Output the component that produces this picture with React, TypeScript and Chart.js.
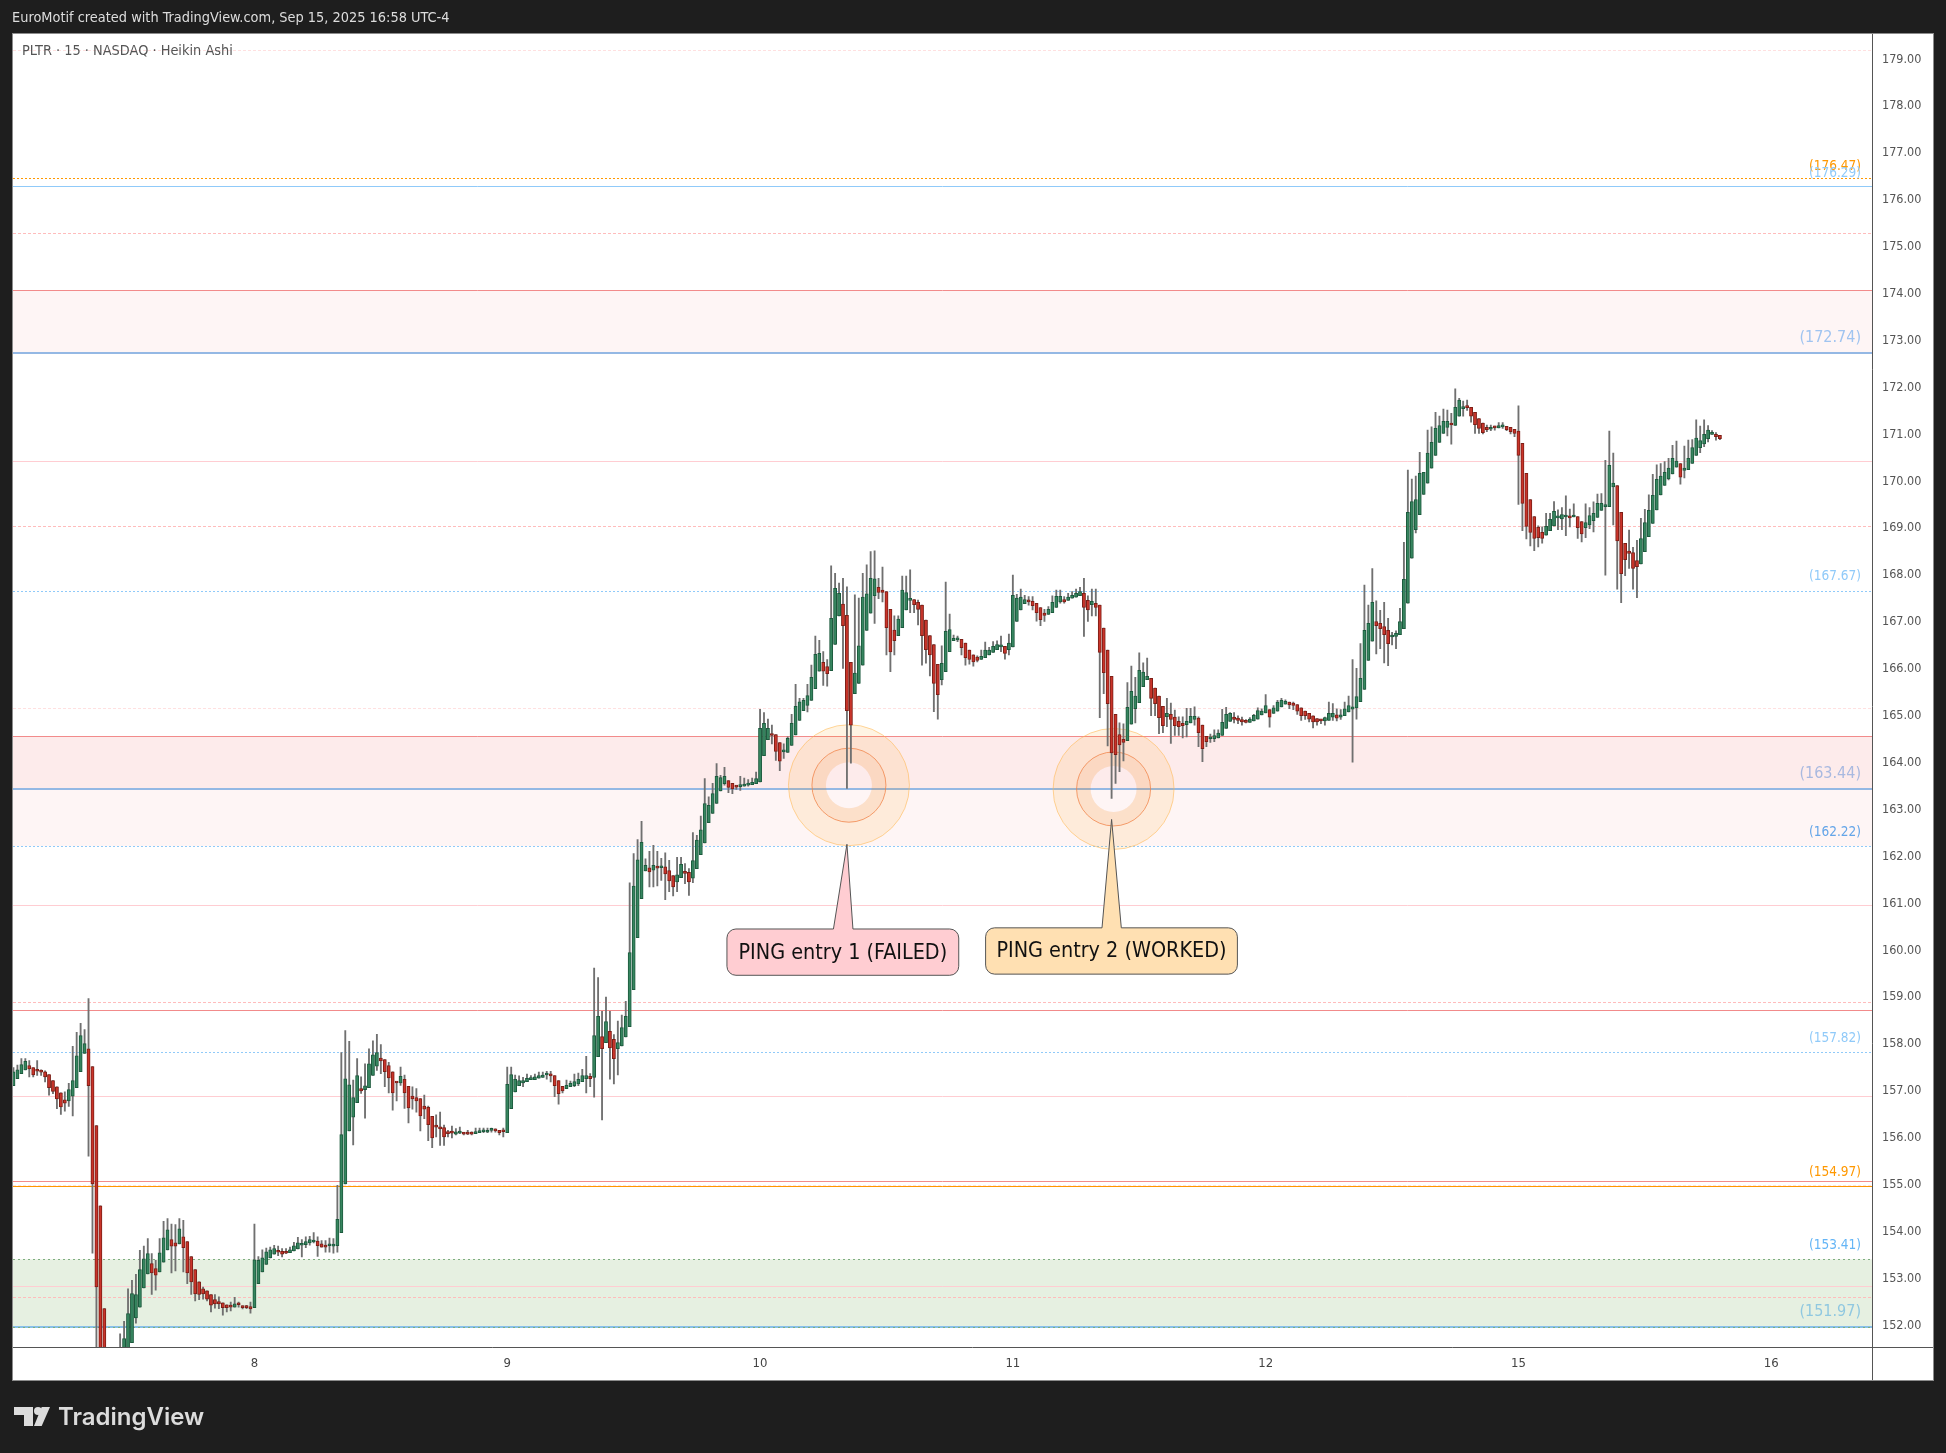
import { useEffect, useRef } from "react";
import { Chart, registerables } from "chart.js";

Chart.register(...registerables);

const SLOTS = 471;
const dayStarts = [61, 125, 189, 253, 317, 381, 445];
const dayLabels = ["8", "9", "10", "11", "12", "15", "16"];
const priceTicks = [152, 153, 154, 155, 156, 157, 158, 159, 160, 161, 162, 163, 164, 165, 166, 167, 168, 169, 170, 171, 172, 173, 174, 175, 176, 177, 178, 179];

const opens = [
  157.11,157.26,157.37,157.45,157.54,157.50,157.43,157.42,157.41,157.35,
  157.22,157.09,156.96,156.81,156.79,156.89,157.07,157.41,157.80,157.90,
  157.52,156.26,154.55,152.36,151.30,150.80,150.50,150.70,151.00,151.30,
  151.63,152.16,152.39,152.80,153.10,153.32,153.21,153.14,153.35,153.61,
  153.83,153.76,153.74,153.89,153.79,153.47,153.19,152.93,152.78,152.74,
  152.66,152.55,152.51,152.48,152.44,152.40,152.39,152.45,152.42,152.39,
  152.40,152.38,152.89,153.14,153.30,153.44,153.52,153.57,153.58,153.55,
  153.55,153.59,153.63,153.71,153.72,153.76,153.78,153.80,153.74,153.70,
  153.70,153.69,153.70,153.98,155.02,156.15,156.44,156.75,157.05,157.03,
  157.07,157.33,157.53,157.70,157.67,157.54,157.41,157.18,157.17,157.25,
  157.10,156.89,156.86,156.84,156.68,156.65,156.46,156.24,156.23,156.22,
  156.12,156.11,156.08,156.10,156.12,156.09,156.09,156.09,156.11,156.13,
  156.12,156.16,156.16,156.16,156.14,156.11,156.62,156.98,157.11,157.17,
  157.20,157.24,157.24,157.27,157.29,157.34,157.33,157.33,157.22,157.10,
  157.05,157.09,157.11,157.15,157.20,157.26,157.31,157.29,157.73,158.16,
  158.03,158.27,158.10,157.90,157.96,158.15,158.37,159.16,160.27,161.10,
  161.69,161.76,161.71,161.76,161.76,161.78,161.70,161.59,161.46,161.55,
  161.67,161.66,161.54,161.74,162.04,162.29,162.72,162.92,163.13,163.40,
  163.55,163.62,163.56,163.49,163.49,163.50,163.52,163.53,163.55,163.59,
  164.15,164.49,164.62,164.60,164.43,164.23,164.22,164.37,164.59,164.90,
  165.11,165.22,165.33,165.58,165.95,166.14,166.05,165.96,166.52,167.13,
  167.38,167.14,166.14,165.47,165.69,166.08,166.82,167.19,167.56,167.74,
  167.68,167.65,167.27,166.83,166.71,166.88,167.26,167.46,167.48,167.42,
  167.36,167.04,166.71,166.52,166.10,165.77,165.94,166.37,166.60,166.62,
  166.63,166.55,166.40,166.30,166.25,166.20,166.24,166.30,166.35,166.41,
  166.47,166.48,166.41,166.47,167.01,167.26,167.39,167.44,167.44,167.40,
  167.31,167.19,167.16,167.20,167.31,167.43,167.48,167.46,167.51,167.53,
  167.56,167.61,167.46,167.37,167.40,167.36,166.87,166.40,165.84,165.03,
  164.60,164.50,164.47,164.82,165.15,165.28,165.62,165.77,165.80,165.59,
  165.42,165.20,164.98,165.03,164.97,164.88,164.84,164.81,164.85,164.92,
  164.95,164.80,164.56,164.51,164.51,164.53,164.58,164.73,164.88,164.97,
  164.95,164.92,164.90,164.86,164.89,164.93,165.02,165.06,165.13,165.05,
  165.10,165.19,165.25,165.29,165.27,165.24,165.17,165.10,165.05,165.00,
  164.94,164.90,164.89,164.90,164.97,165.02,164.97,165.00,165.08,165.14,
  165.17,165.30,165.56,166.18,166.59,167.01,166.97,166.90,166.82,166.68,
  166.69,166.73,166.86,167.40,168.36,168.97,169.29,169.72,169.96,170.28,
  170.55,170.83,171.02,171.15,171.21,171.19,171.39,171.55,171.58,171.58,
  171.47,171.34,171.24,171.15,171.11,171.15,171.14,171.16,171.17,171.15,
  171.11,171.07,170.81,170.17,169.61,169.25,169.02,168.91,168.85,168.95,
  169.05,169.22,169.20,169.24,169.26,169.24,169.25,169.14,169.01,169.07,
  169.16,169.23,169.38,169.46,169.46,169.88,169.91,169.34,168.68,168.51,
  168.48,168.31,168.24,168.50,168.82,169.10,169.39,169.71,169.91,170.05,
  170.16,170.30,170.38,170.23,170.25,170.38,170.55,170.72,170.80,170.91,
  171.00,171.00,170.98,
];

const closes = [
  157.41,157.45,157.56,157.63,157.47,157.34,157.42,157.40,157.30,157.07,
  156.99,156.83,156.66,156.74,157.03,157.22,157.75,158.18,158.01,157.11,
  155.02,152.82,151.33,150.83,150.40,150.40,150.90,151.20,151.72,152.25,
  152.68,152.66,153.19,153.42,153.53,153.12,153.07,153.55,153.87,154.04,
  153.69,153.69,154.06,153.66,153.12,152.93,152.67,152.66,152.67,152.56,
  152.43,152.46,152.46,152.38,152.38,152.39,152.46,152.44,152.38,152.38,
  152.35,153.40,153.39,153.44,153.57,153.61,153.64,153.56,153.52,153.54,
  153.61,153.70,153.76,153.72,153.79,153.83,153.79,153.70,153.67,153.67,
  153.71,153.70,154.26,156.07,157.26,157.13,156.86,157.33,157.00,157.11,
  157.58,157.77,157.82,157.64,157.41,157.28,156.96,157.17,157.31,156.96,
  156.64,156.83,156.79,156.47,156.61,156.28,156.00,156.23,156.19,156.02,
  156.09,156.10,156.13,156.11,156.08,156.08,156.08,156.13,156.14,156.14,
  156.16,156.17,156.15,156.11,156.13,157.14,157.35,157.25,157.22,157.22,
  157.27,157.27,157.30,157.33,157.34,157.35,157.32,157.11,156.94,157.00,
  157.12,157.16,157.20,157.25,157.33,157.33,157.26,158.18,158.59,157.90,
  158.48,157.92,157.69,158.03,158.35,158.59,159.95,161.37,161.93,162.30,
  161.81,161.67,161.81,161.75,161.77,161.63,161.48,161.35,161.61,161.83,
  161.64,161.46,161.91,162.35,162.57,163.13,163.09,163.34,163.71,163.68,
  163.71,163.47,163.44,163.48,163.53,163.54,163.53,163.58,163.66,164.73,
  164.84,164.73,164.58,164.24,164.03,164.24,164.52,164.84,165.20,165.30,
  165.33,165.43,165.82,166.31,166.33,165.95,165.90,167.08,167.72,167.61,
  166.92,165.11,164.80,165.91,166.49,167.53,167.60,167.93,167.92,167.63,
  167.63,166.88,166.36,166.60,167.06,167.68,167.63,167.50,167.37,167.27,
  166.71,166.41,166.30,165.69,165.45,166.12,166.80,166.84,166.65,166.63,
  166.45,166.24,166.20,166.15,166.18,166.27,166.40,166.40,166.48,166.52,
  166.48,166.33,166.55,167.57,167.51,167.53,167.48,167.43,167.35,167.20,
  167.05,167.14,167.27,167.42,167.55,167.55,167.43,167.53,167.57,167.61,
  167.65,167.31,167.26,167.44,167.31,166.35,165.92,165.26,164.21,164.17,
  164.38,164.43,165.18,165.52,165.42,165.97,165.93,165.84,165.37,165.26,
  164.96,164.79,165.05,164.92,164.79,164.77,164.79,164.88,164.99,164.99,
  164.64,164.30,164.45,164.52,164.58,164.63,164.86,165.03,165.05,164.92,
  164.90,164.87,164.86,164.93,165.01,165.11,165.10,165.22,164.97,165.17,
  165.29,165.33,165.31,165.23,165.22,165.10,165.00,165.00,164.93,164.87,
  164.87,164.89,164.96,165.05,165.05,164.95,165.02,165.15,165.22,165.19,
  165.41,165.80,166.82,166.97,167.42,166.92,166.86,166.73,166.54,166.69,
  166.76,167.01,167.91,169.34,169.57,169.61,170.17,170.19,170.60,170.83,
  171.13,171.19,171.28,171.28,171.20,171.58,171.73,171.58,171.57,171.39,
  171.21,171.13,171.04,171.10,171.15,171.14,171.19,171.17,171.10,171.06,
  171.02,170.55,169.53,169.04,168.91,168.78,168.80,168.78,169.04,169.19,
  169.36,169.23,169.29,169.25,169.22,169.27,169.01,168.88,169.12,169.27,
  169.32,169.53,169.53,169.47,170.34,169.96,168.73,168.03,168.33,168.46,
  168.14,168.18,168.78,169.12,169.38,169.70,170.04,170.11,170.19,170.28,
  170.49,170.43,170.09,170.28,170.49,170.72,170.92,170.87,171.00,171.09,
  171.03,170.95,170.91,
];

const highs = [
  157.50,157.55,157.69,157.69,157.65,157.50,157.65,157.45,157.43,157.35,
  157.22,157.09,156.96,156.98,157.16,157.95,158.25,158.44,158.31,158.97,
  157.52,156.26,154.55,152.36,151.30,150.90,151.10,151.82,152.09,152.78,
  152.96,153.09,153.60,153.69,153.85,153.53,153.39,153.85,154.22,154.28,
  154.16,154.15,154.28,154.24,153.79,153.47,153.19,152.93,152.82,152.74,
  152.66,152.66,152.61,152.48,152.44,152.50,152.60,152.50,152.42,152.43,
  152.50,154.16,153.47,153.61,153.65,153.67,153.71,153.69,153.64,153.64,
  153.67,153.77,153.88,153.83,153.89,153.90,153.98,153.89,153.81,153.81,
  153.86,153.85,154.99,157.82,158.29,158.06,157.23,157.69,157.30,157.58,
  157.90,158.07,158.21,157.99,157.67,157.61,157.41,157.18,157.51,157.34,
  157.10,157.09,157.05,156.84,156.91,156.68,156.46,156.49,156.55,156.27,
  156.16,156.25,156.20,156.23,156.12,156.16,156.13,156.21,156.21,156.21,
  156.21,156.21,156.19,156.16,156.21,157.51,157.51,157.34,157.32,157.29,
  157.36,157.33,157.36,157.40,157.40,157.42,157.42,157.33,157.22,157.10,
  157.23,157.21,157.36,157.38,157.46,157.74,157.37,159.62,159.42,158.70,
  159.00,158.70,158.20,158.49,158.62,158.91,161.44,162.06,162.36,162.75,
  161.95,162.11,162.24,162.11,161.96,162.08,161.92,161.59,161.98,161.98,
  161.85,161.74,162.51,162.45,162.86,163.66,163.27,163.56,163.98,163.73,
  163.90,163.62,163.56,163.50,163.71,163.67,163.64,163.67,163.80,165.14,
  165.07,164.93,164.80,164.60,164.43,164.40,164.55,165.03,165.67,165.37,
  165.37,165.67,166.08,166.70,166.61,166.37,166.20,168.20,168.04,167.83,
  167.93,167.75,166.14,167.58,167.51,168.04,168.22,168.50,168.52,167.93,
  168.17,167.65,167.27,167.13,167.13,167.98,167.98,168.11,167.48,167.47,
  167.36,167.04,166.71,166.52,166.10,166.49,167.85,167.17,166.72,166.70,
  166.63,166.55,166.40,166.30,166.28,166.40,166.57,166.46,166.58,166.60,
  166.70,166.48,166.74,168.00,167.59,167.70,167.57,167.54,167.54,167.40,
  167.31,167.27,167.33,167.56,167.68,167.68,167.54,167.61,167.65,167.70,
  167.74,167.93,167.56,167.70,167.70,167.36,166.87,166.40,165.84,165.03,
  164.85,164.83,165.71,166.06,165.82,166.34,166.13,166.23,165.80,165.59,
  165.42,165.20,165.37,165.27,165.12,164.98,164.98,165.16,165.16,165.19,
  164.98,164.80,164.56,164.61,164.70,164.70,165.14,165.18,165.07,165.07,
  165.00,164.97,164.92,164.96,165.03,165.17,165.15,165.45,165.13,165.22,
  165.33,165.37,165.34,165.29,165.29,165.24,165.17,165.10,165.05,165.00,
  164.94,164.92,164.97,165.29,165.26,165.15,165.13,165.29,165.42,166.20,
  166.01,166.54,167.79,167.36,168.14,167.45,167.25,167.42,167.08,166.78,
  166.81,167.29,168.70,170.24,170.05,170.11,170.62,170.19,171.09,171.16,
  171.47,171.39,171.54,171.52,171.45,171.97,171.77,171.71,171.73,171.58,
  171.47,171.34,171.24,171.20,171.20,171.18,171.25,171.25,171.17,171.15,
  171.11,171.61,170.81,170.17,169.61,169.25,169.05,169.03,169.32,169.32,
  169.57,169.39,169.44,169.69,169.41,169.52,169.25,169.14,169.52,169.44,
  169.56,169.73,169.74,170.45,171.07,170.60,169.91,169.34,168.68,168.96,
  168.59,168.74,169.21,169.40,169.71,170.15,170.35,170.38,170.42,170.49,
  170.77,170.86,170.38,170.75,170.88,170.89,171.31,171.18,171.31,171.19,
  171.08,171.04,170.98,
];

const lows = [
  157.11,157.26,157.37,157.45,157.30,157.30,157.33,157.33,157.19,156.91,
  156.94,156.62,156.50,156.57,156.67,156.47,157.07,157.41,157.80,155.61,
  153.54,151.47,150.83,150.40,150.20,150.20,150.30,150.50,150.90,151.30,
  151.63,152.05,152.39,152.80,153.10,152.66,152.75,153.14,153.35,153.61,
  153.12,153.16,153.74,153.14,152.89,152.66,152.52,152.55,152.56,152.52,
  152.29,152.37,152.36,152.22,152.29,152.31,152.39,152.39,152.35,152.36,
  152.26,152.38,152.89,153.14,153.30,153.44,153.52,153.49,153.46,153.53,
  153.55,153.59,153.63,153.46,153.66,153.71,153.76,153.47,153.67,153.56,
  153.56,153.54,153.56,153.98,155.02,156.15,155.85,156.75,156.95,156.42,
  157.07,157.33,157.44,157.37,157.09,156.96,156.59,156.79,157.12,156.63,
  156.32,156.61,156.55,156.15,156.41,155.94,155.79,156.02,155.84,155.84,
  156.02,156.00,156.06,156.09,156.06,156.07,156.06,156.09,156.11,156.11,
  156.11,156.12,156.12,156.06,156.02,156.11,156.62,156.98,157.11,157.09,
  157.20,157.24,157.24,157.27,157.29,157.25,157.19,156.88,156.72,156.96,
  157.05,157.09,157.09,157.11,157.20,156.96,157.09,156.87,157.73,156.38,
  158.03,157.25,157.15,157.34,157.96,158.15,158.37,159.16,160.27,161.10,
  161.69,161.35,161.35,161.37,161.49,161.08,161.25,161.16,161.25,161.55,
  161.42,161.17,161.44,161.74,162.04,162.29,162.72,162.92,163.13,163.40,
  163.52,163.36,163.34,163.43,163.41,163.50,163.50,163.53,163.55,163.59,
  164.15,164.49,164.40,164.05,163.83,164.09,164.22,164.37,164.59,164.90,
  165.11,165.08,165.33,165.58,165.95,165.65,165.63,165.96,166.52,167.13,
  166.01,163.45,163.99,165.47,165.69,166.08,166.82,167.19,166.97,167.50,
  167.43,166.30,165.94,166.30,166.71,166.88,167.26,167.20,167.20,166.94,
  166.08,166.12,165.85,165.09,164.93,165.66,165.94,166.37,166.60,166.58,
  166.30,166.08,166.10,166.06,166.15,166.20,166.24,166.30,166.35,166.41,
  166.37,166.21,166.30,166.47,167.01,167.26,167.39,167.36,167.26,167.02,
  166.92,167.01,167.16,167.20,167.31,167.40,167.40,167.46,167.51,167.53,
  167.56,166.69,167.01,167.13,167.13,164.96,165.47,164.36,163.24,163.56,
  163.81,164.04,164.47,164.82,164.85,165.28,165.62,165.77,165.00,165.00,
  164.62,164.64,164.77,164.41,164.58,164.58,164.53,164.55,164.85,164.80,
  164.34,164.02,164.34,164.43,164.45,164.53,164.58,164.73,164.88,164.85,
  164.83,164.80,164.85,164.86,164.89,164.93,165.02,165.06,164.76,165.05,
  165.10,165.19,165.25,165.15,165.13,165.03,164.90,164.92,164.87,164.74,
  164.80,164.83,164.80,164.90,164.90,164.89,164.92,165.00,165.08,164.01,
  164.93,165.30,165.56,166.18,166.59,166.32,166.43,166.13,166.07,166.51,
  166.43,166.73,166.86,167.40,168.36,168.90,169.29,169.72,169.96,170.28,
  170.55,170.83,171.02,170.97,170.79,171.19,171.39,171.39,171.51,171.26,
  171.02,171.02,171.01,171.06,171.08,171.09,171.14,171.13,171.08,171.01,
  170.95,169.51,168.95,168.77,168.62,168.52,168.60,168.68,168.85,168.95,
  169.05,168.97,168.97,168.84,169.03,169.24,168.78,168.71,168.80,168.99,
  168.92,169.23,169.38,168.00,169.46,169.07,167.70,167.41,167.99,168.14,
  167.70,167.52,168.24,168.50,168.82,169.10,169.39,169.71,169.91,170.03,
  170.16,170.30,169.94,170.07,170.25,170.38,170.55,170.61,170.74,170.84,
  171.00,170.88,170.89,
];

// drawn levels, grouped by how they look
const faintDashedLevels = [179.2, 165.16, 155.0];
const pinkDashedLevels = [175.3, 169.04, 158.89, 152.6];
const pinkSolidLevels = [170.44, 160.96, 156.9, 152.85];
const redSolidLevels = [174.07, 164.57, 158.72, 155.09];
const blueDottedLevels = [167.67, 162.22, 157.82];
const blueSolidLevels = [176.29];
const blueThickLevels = [172.74, 163.44];
const cyanThickLevels = [151.97];
const orangeDottedLevels = [176.47];
const orangeSolidLevels = [154.97];
const greenDottedLevels = [153.41, 151.97];

const pinkZones = [[174.07, 172.74], [164.57, 162.22], [164.57, 163.44]];
const greenZones = [[153.41, 151.97]];

const smallLabels = [176.47, 176.29, 167.67, 162.22, 157.82, 154.97, 153.41];
const smallLabelColors = ["#ff9800", "#90caf9", "#90caf9", "#64a5e8", "#90caf9", "#ff9800", "#64b5f6"];
const smallLabelLifts = [11.5, 12.5, 14, 14, 13.5, 14, 14];
const bigLabels = [172.74, 163.44, 151.97];
const bigLabelColors = ["#a0c4f0", "#a9b9e0", "#90c8e0"];

const ringIndexes = [211.5, 278.5];
const ringPrices = [163.52, 163.44];

const calloutTexts = ["PING entry 1 (FAILED)", "PING entry 2 (WORKED)"];
const calloutIndexes = [211, 278];
const calloutPrices = [162.26, 162.79];

const FONT = '"DejaVu Sans Condensed", "DejaVu Sans"';

function hline(ctx: any, area: any, y: number, color: string, width: number, dash: number[]) {
  ctx.save();
  ctx.strokeStyle = color;
  ctx.lineWidth = width;
  ctx.setLineDash(dash);
  const py = Math.round(y) + (width % 2 ? 0.5 : 0);
  ctx.beginPath();
  ctx.moveTo(13, py);
  ctx.lineTo(area.right, py);
  ctx.stroke();
  ctx.restore();
}

const frame = {
  id: "frame",
  beforeDraw(chart: any) {
    const { ctx, chartArea: a, scales } = chart;
    const y = scales.y;
    ctx.save();
    ctx.fillStyle = "#1e1e1e";
    ctx.fillRect(0, 0, chart.width, chart.height);
    ctx.fillStyle = "#ffffff";
    ctx.fillRect(12, 33, 1933 - 12, 1380 - 33);

    pinkZones.forEach(([top, bottom]) => {
      ctx.fillStyle = "rgba(244,67,54,0.05)";
      ctx.fillRect(13, y.getPixelForValue(top), a.right - 13, y.getPixelForValue(bottom) - y.getPixelForValue(top));
    });
    greenZones.forEach(([top, bottom]) => {
      ctx.fillStyle = "#e6f0e1";
      ctx.fillRect(13, y.getPixelForValue(top), a.right - 13, y.getPixelForValue(bottom) - y.getPixelForValue(top));
    });

    const draw = (levels: number[], color: string, width: number, dash: number[]) =>
      levels.forEach((v) => hline(ctx, a, y.getPixelForValue(v), color, width, dash));
    draw(faintDashedLevels, "#ffe0e0", 1, [3, 2]);
    draw(pinkDashedLevels, "#ffbcbc", 1, [3, 2]);
    draw(pinkSolidLevels, "#ffcdd2", 1, []);
    draw(redSolidLevels, "#f28b8b", 1, []);
    draw(blueDottedLevels, "#90caf9", 1, [2, 2]);
    draw(blueSolidLevels, "#90caf9", 1, []);
    draw(blueThickLevels, "#94b8e4", 2, []);
    draw(cyanThickLevels, "#88c0e8", 2, []);
    draw(orangeDottedLevels, "#ff9800", 1, [2, 2]);
    draw(orangeSolidLevels, "#ff9800", 1, []);
    draw(greenDottedLevels, "#7fae7f", 1, [2, 3]);
    ctx.restore();
  },
  beforeDatasetsDraw(chart: any) {
    const { ctx, scales } = chart;
    ringIndexes.forEach((idx, i) => {
      const cx = scales.x.getPixelForValue(idx);
      const cy = scales.y.getPixelForValue(ringPrices[i]);
      ctx.save();
      ctx.beginPath();
      ctx.arc(cx, cy, 60.5, 0, Math.PI * 2);
      ctx.arc(cx, cy, 23, 0, Math.PI * 2, true);
      ctx.fillStyle = "rgba(255,152,0,0.11)";
      ctx.fill();
      ctx.beginPath();
      ctx.arc(cx, cy, 37, 0, Math.PI * 2);
      ctx.arc(cx, cy, 23, 0, Math.PI * 2, true);
      ctx.fillStyle = "rgba(230,81,0,0.07)";
      ctx.fill();
      ctx.beginPath();
      ctx.arc(cx, cy, 60.5, 0, Math.PI * 2);
      ctx.strokeStyle = "rgba(255,183,77,0.55)";
      ctx.lineWidth = 1;
      ctx.stroke();
      ctx.beginPath();
      ctx.arc(cx, cy, 37, 0, Math.PI * 2);
      ctx.strokeStyle = "rgba(240,130,70,0.75)";
      ctx.stroke();
      ctx.restore();
    });
  },
  afterDatasetsDraw(chart: any) {
    const { ctx, scales } = chart;
    const y = scales.y;
    ctx.save();

    // level labels at the right edge
    ctx.textAlign = "right";
    ctx.textBaseline = "middle";
    ctx.font = `13.5px ${FONT}`;
    smallLabels.forEach((v, i) => {
      ctx.fillStyle = smallLabelColors[i];
      ctx.fillText(`(${v.toFixed(2)})`, 1861, y.getPixelForValue(v) - smallLabelLifts[i]);
    });
    ctx.font = `16px ${FONT}`;
    bigLabels.forEach((v, i) => {
      ctx.fillStyle = bigLabelColors[i];
      ctx.fillText(`(${v.toFixed(2)})`, 1861, y.getPixelForValue(v) - 15);
    });

    // callouts with their tips on the entries
    const boxes = [
      { left: -120, right: 111.8, top: 84.7, a: -13.5, b: 6, fill: "#ffcdd2" },
      { left: -126, right: 125.8, top: 108.4, a: -9.6, b: 9.7, fill: "#ffe0b2" },
    ];
    calloutTexts.forEach((text, i) => {
      const b = boxes[i];
      const tx = scales.x.getPixelForValue(calloutIndexes[i]);
      const ty = y.getPixelForValue(calloutPrices[i]);
      const top = ty + b.top;
      ctx.beginPath();
      ctx.moveTo(tx + b.left + 9, top);
      ctx.lineTo(tx + b.a, top);
      ctx.lineTo(tx, ty);
      ctx.lineTo(tx + b.b, top);
      ctx.lineTo(tx + b.right - 9, top);
      ctx.arcTo(tx + b.right, top, tx + b.right, top + 9, 9);
      ctx.lineTo(tx + b.right, top + 37.3);
      ctx.arcTo(tx + b.right, top + 46.3, tx + b.right - 9, top + 46.3, 9);
      ctx.lineTo(tx + b.left + 9, top + 46.3);
      ctx.arcTo(tx + b.left, top + 46.3, tx + b.left, top + 37.3, 9);
      ctx.lineTo(tx + b.left, top + 9);
      ctx.arcTo(tx + b.left, top, tx + b.left + 9, top, 9);
      ctx.closePath();
      ctx.fillStyle = b.fill;
      ctx.fill();
      ctx.strokeStyle = "#555555";
      ctx.lineWidth = 1;
      ctx.stroke();
      ctx.fillStyle = "#111111";
      ctx.font = `21.4px ${FONT}`;
      ctx.textAlign = "center";
      ctx.textBaseline = "middle";
      ctx.fillText(text, tx + (b.left + b.right) / 2, top + 24);
    });

    // pane separators and outer border
    ctx.strokeStyle = "#555555";
    ctx.lineWidth = 1;
    ctx.beginPath();
    ctx.moveTo(1872.5, 33);
    ctx.lineTo(1872.5, 1380);
    ctx.moveTo(12, 1347.5);
    ctx.lineTo(1933, 1347.5);
    ctx.stroke();
    ctx.strokeStyle = "#8c8c8c";
    ctx.strokeRect(12.5, 33.5, 1921, 1347);

    // header text
    ctx.textAlign = "left";
    ctx.textBaseline = "middle";
    ctx.fillStyle = "#dddddd";
    ctx.font = `14.4px ${FONT}`;
    ctx.fillText("EuroMotif created with TradingView.com, Sep 15, 2025 16:58 UTC-4", 12, 18);
    ctx.fillStyle = "#555555";
    ctx.fillText("PLTR · 15 · NASDAQ · Heikin Ashi", 22, 51);

    // logo
    ctx.fillStyle = "#dcdcdc";
    ctx.fillRect(14, 1407, 19, 8);
    ctx.fillRect(24, 1407, 9, 19);
    ctx.beginPath();
    ctx.arc(38, 1411, 4, 0, Math.PI * 2);
    ctx.fill();
    ctx.beginPath();
    ctx.moveTo(41.7, 1407);
    ctx.lineTo(50, 1407);
    ctx.lineTo(41.7, 1426);
    ctx.lineTo(34, 1426);
    ctx.closePath();
    ctx.fill();
    ctx.font = "600 24px Inter";
    ctx.fillText("TradingView", 58, 1418);

    ctx.restore();
  },
};

export default function App() {
  const chartRef = useRef<HTMLCanvasElement | null>(null);

  useEffect(() => {
    const canvas = chartRef.current;
    if (!canvas) return;
    const labels = Array.from({ length: SLOTS }, (_, i) => {
      const at = dayStarts.indexOf(i);
      return at >= 0 ? dayLabels[at] : "";
    });
    const up = opens.map((o, i) => closes[i] >= o);

    const chart = new Chart(canvas, {
      type: "bar",
      data: {
        labels,
        datasets: [
          {
            label: "body",
            data: opens.map((o, i) => [o, closes[i]]) as any,
            grouped: false,
            order: 1,
            barThickness: 3.2,
            minBarLength: 2,
            borderWidth: 1,
            borderSkipped: false,
            backgroundColor: up.map((u) => (u ? "#36855f" : "#c9342a")),
            borderColor: up.map((u) => (u ? "#1c5a3d" : "#7c1e16")),
          },
          {
            label: "wick",
            data: lows.map((l, i) => [l, highs[i]]) as any,
            grouped: false,
            order: 2,
            barThickness: 1.2,
            borderWidth: 0,
            backgroundColor: "#707070",
          },
        ],
      },
      options: {
        responsive: false,
        animation: false,
        devicePixelRatio: 1,
        layout: { padding: { left: 11.5, top: 33, right: 13, bottom: 73 } },
        plugins: { legend: { display: false }, tooltip: { enabled: false } },
        scales: {
          x: {
            grid: { display: false, drawTicks: false },
            border: { display: false },
            afterBuildTicks: (s: any) => {
              s.ticks = dayStarts.map((v) => ({ value: v }));
            },
            afterFit: (s: any) => {
              s.height = 33;
            },
            ticks: {
              autoSkip: false,
              maxRotation: 0,
              padding: 9,
              color: "#444444",
              font: { family: FONT, size: 13 },
              callback: (v: any) => labels[v],
            },
          },
          y: {
            position: "right",
            min: 151.54,
            max: 179.56,
            grid: { display: false, drawTicks: false },
            border: { display: false },
            afterBuildTicks: (s: any) => {
              s.ticks = priceTicks.map((v) => ({ value: v }));
            },
            afterFit: (s: any) => {
              s.width = 61;
            },
            ticks: {
              padding: 10,
              color: "#555555",
              font: { family: FONT, size: 12.5 },
              callback: (v: any) => Number(v).toFixed(2),
            },
          },
        },
      },
      plugins: [frame],
    } as any);

    return () => chart.destroy();
  }, []);

  return (
    <canvas
      ref={chartRef}
      width={1946}
      height={1453}
      style={{ position: "fixed", left: 0, top: 0, width: 1946, height: 1453, display: "block" }}
    />
  );
}
